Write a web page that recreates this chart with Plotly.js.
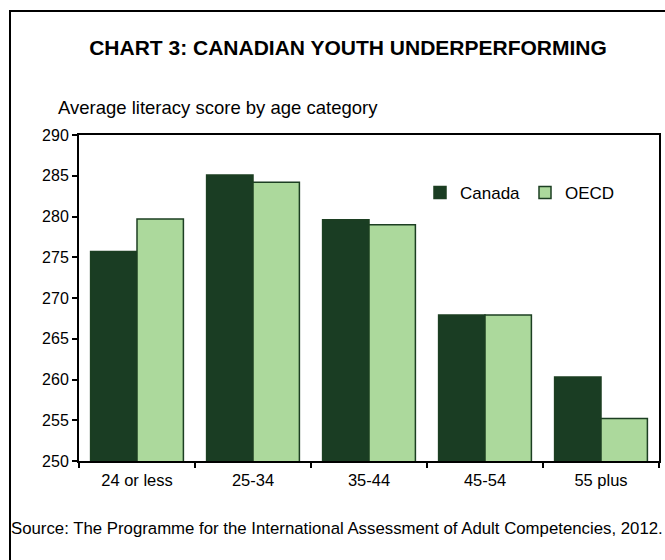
<!DOCTYPE html>
<html>
<head>
<meta charset="utf-8">
<script src="https://cdn.plot.ly/plotly-3.0.1.min.js"></script>
<style>
  html, body { margin: 0; padding: 0; background: #ffffff; }
  #chart { width: 665px; height: 560px; }
</style>
</head>
<body>
<div id="chart"></div>
<script>
var categories = ["24 or less", "25-34", "35-44", "45-54", "55 plus"];
var canadaValues = [275.7, 285.1, 279.6, 267.9, 260.3];
var oecdValues = [279.7, 284.2, 279.0, 267.9, 255.2];
var yTickValues = [250, 255, 260, 265, 270, 275, 280, 285, 290];

var FONT = "Liberation Sans, Arial, sans-serif";
var OUTLINE = "#1c3f22";

var traces = [
  {
    type: "bar",
    name: "Canada",
    x: categories,
    y: canadaValues,
    marker: { color: "#1a3d23", line: { color: OUTLINE, width: 1.5 } }
  },
  {
    type: "bar",
    name: "OECD",
    x: categories,
    y: oecdValues,
    marker: { color: "#acd99c", line: { color: OUTLINE, width: 1.5 } }
  }
];

var layout = {
  width: 665,
  height: 560,
  margin: { l: 79, r: 6, t: 135, b: 99, autoexpand: false },
  paper_bgcolor: "#ffffff",
  plot_bgcolor: "#ffffff",
  font: { family: FONT, size: 16, color: "#000000" },
  barmode: "group",
  bargap: 0.2,
  bargroupgap: 0,
  showlegend: true,
  title: {
    text: "<b>CHART 3: CANADIAN YOUTH UNDERPERFORMING</b>",
    font: { family: FONT, size: 21, color: "#000000" },
    x: 348 / 665,
    xanchor: "center",
    xref: "container",
    y: 1 - 47.5 / 560,
    yanchor: "middle",
    yref: "container"
  },
  xaxis: {
    type: "category",
    showline: true,
    linecolor: "#000000",
    linewidth: 2,
    mirror: true,
    ticks: "outside",
    tickson: "boundaries",
    ticklen: 5,
    tickwidth: 2,
    tickcolor: "#000000",
    ticklabelstandoff: 3,
    showgrid: false,
    tickfont: { family: FONT, size: 16.5, color: "#000000" }
  },
  yaxis: {
    range: [250, 290],
    tickvals: yTickValues,
    showline: true,
    linecolor: "#000000",
    linewidth: 2,
    mirror: true,
    ticks: "outside",
    ticklen: 5,
    tickwidth: 2,
    tickcolor: "#000000",
    showgrid: false,
    zeroline: false,
    tickfont: { family: FONT, size: 16, color: "#000000" }
  },
  legend: {
    orientation: "h",
    x: (420 - 79) / 580,
    xanchor: "left",
    y: 0.822,
    yanchor: "middle",
    entrywidth: 60,
    entrywidthmode: "pixels",
    font: { family: FONT, size: 17, color: "#000000" },
    bgcolor: "rgba(0,0,0,0)",
    traceorder: "normal"
  },
  annotations: [
    {
      text: "Average literacy score by age category",
      xref: "paper", yref: "paper",
      x: (56 - 79) / 580, xanchor: "left",
      y: (461 - 107) / 326, yanchor: "middle",
      showarrow: false,
      font: { family: FONT, size: 18.5, color: "#000000" }
    },
    {
      text: "Source: The Programme for the International Assessment of Adult Competencies, 2012.",
      xref: "paper", yref: "paper",
      x: (9 - 79) / 580, xanchor: "left",
      y: (461 - 528) / 326, yanchor: "middle",
      showarrow: false,
      font: { family: FONT, size: 16.8, color: "#000000" }
    }
  ],
  shapes: [
    {
      type: "rect",
      xref: "paper", yref: "paper",
      x0: (10 - 79) / 580, x1: (700 - 79) / 580,
      y0: (461 - 600) / 326, y1: (461 - 11) / 326,
      line: { color: "#000000", width: 2 },
      fillcolor: "rgba(0,0,0,0)",
      layer: "below"
    }
  ]
};

Plotly.newPlot("chart", traces, layout, { displayModeBar: false, staticPlot: true });
</script>
</body>
</html>
